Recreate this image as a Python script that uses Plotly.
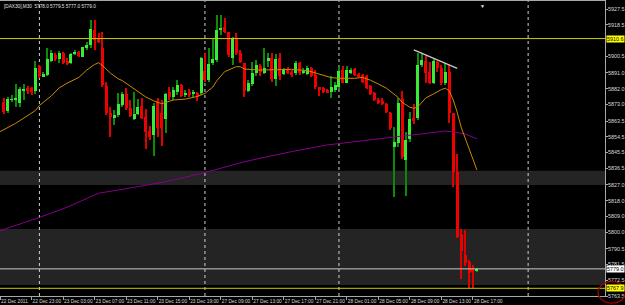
import plotly.graph_objects as go

# ---------------- data (M30 bars, index = bar number) ----------------
bar_idx = list(range(1, 122))
opens = [5874.5, 5869.4, 5875.6, 5875.7, 5874.0, 5881.2, 5882.3, 5882.1, 5880.8, 5894.9,
         5889.2, 5889.8, 5898.0, 5901.2, 5898.7, 5902.5, 5897.8, 5896.4, 5902.2, 5903.1,
         5900.2, 5905.0, 5906.9, 5915.5, 5910.2, 5905.4, 5883.5, 5868.3, 5865.0, 5866.9,
         5872.6, 5878.9, 5870.7, 5864.4, 5867.5, 5872.1, 5866.0, 5858.0, 5855.5, 5874.5,
         5867.9, 5864.4, 5880.2, 5877.0, 5880.2, 5884.1, 5878.3, 5880.2, 5879.0, 5879.7,
         5879.3, 5892.3, 5886.9, 5896.4, 5898.3, 5915.5, 5917.0, 5914.1, 5899.3, 5910.7,
         5902.5, 5896.4, 5880.8, 5884.6, 5891.1, 5894.9, 5891.1, 5898.3, 5899.3, 5887.3,
         5899.3, 5890.3, 5893.0, 5891.7, 5890.7, 5896.8, 5891.1, 5890.3, 5893.6, 5889.8,
         5882.7, 5882.2, 5881.2, 5880.2, 5881.2, 5882.7, 5892.6, 5885.4, 5891.1, 5893.0,
         5890.3, 5889.8, 5889.2, 5883.5, 5879.7, 5875.5, 5875.1, 5873.2, 5867.9, 5848.8,
         5850.7, 5875.9, 5841.2, 5853.0, 5865.0, 5865.0, 5895.5, 5898.0, 5891.7, 5885.4,
         5897.4, 5893.6, 5885.0, 5891.7, 5867.9, 5834.5, 5798.9, 5786.9, 5783.1, 5778.7,
         5778.0]
highs = [5876.4, 5877.0, 5878.3, 5884.6, 5882.7, 5884.6, 5883.5, 5882.7, 5897.8, 5895.5,
         5891.7, 5905.0, 5904.1, 5902.5, 5903.7, 5903.1, 5899.3, 5902.5, 5904.1, 5903.5,
         5906.0, 5908.8, 5921.2, 5921.2, 5913.6, 5914.5, 5886.0, 5871.7, 5869.8, 5879.3,
         5880.2, 5882.2, 5875.5, 5880.2, 5875.9, 5876.4, 5870.2, 5860.6, 5873.6, 5876.4,
         5875.5, 5879.3, 5882.7, 5882.7, 5886.9, 5884.6, 5881.2, 5881.6, 5881.2, 5880.2,
         5900.2, 5902.2, 5905.0, 5910.2, 5924.1, 5924.1, 5922.2, 5914.1, 5911.7, 5914.0,
         5904.1, 5896.4, 5886.9, 5897.4, 5898.3, 5896.1, 5905.0, 5902.2, 5902.2, 5901.8,
         5902.2, 5893.6, 5894.5, 5892.6, 5897.9, 5897.4, 5893.6, 5894.9, 5894.5, 5892.6,
         5882.7, 5882.7, 5881.6, 5889.2, 5886.0, 5894.5, 5894.9, 5894.9, 5893.6, 5893.6,
         5891.1, 5890.3, 5889.8, 5884.1, 5880.2, 5876.4, 5876.4, 5874.0, 5868.8, 5860.3,
         5876.4, 5880.8, 5857.4, 5868.8, 5873.2, 5902.5, 5902.2, 5901.2, 5897.4, 5898.7,
         5898.0, 5895.5, 5896.4, 5895.5, 5868.3, 5844.6, 5801.6, 5801.2, 5784.0, 5781.2,
         5779.5]
lows = [5867.5, 5867.9, 5874.5, 5871.7, 5871.3, 5875.5, 5879.0, 5878.3, 5878.9, 5887.9,
        5888.4, 5889.2, 5897.4, 5898.0, 5896.4, 5896.1, 5895.5, 5896.1, 5901.2, 5899.9,
        5899.9, 5904.1, 5905.0, 5904.1, 5907.9, 5882.7, 5866.9, 5854.2, 5861.2, 5865.9,
        5871.7, 5869.8, 5866.0, 5864.0, 5866.9, 5864.4, 5847.3, 5852.6, 5843.5, 5854.5,
        5849.2, 5856.4, 5875.5, 5875.5, 5878.3, 5877.0, 5877.0, 5877.0, 5877.4, 5875.1,
        5878.3, 5886.0, 5886.0, 5895.5, 5897.4, 5912.6, 5913.6, 5900.2, 5895.5, 5901.2,
        5896.4, 5877.0, 5880.2, 5883.5, 5889.2, 5889.2, 5890.3, 5894.5, 5886.0, 5883.5,
        5886.9, 5889.8, 5890.3, 5888.8, 5889.8, 5889.8, 5890.3, 5889.8, 5888.8, 5881.6,
        5877.8, 5879.7, 5879.3, 5876.4, 5880.2, 5881.6, 5885.0, 5885.0, 5890.3, 5889.2,
        5888.4, 5885.4, 5881.6, 5878.3, 5875.1, 5873.2, 5872.6, 5868.3, 5858.4, 5820.3,
        5848.8, 5841.6, 5820.6, 5851.7, 5861.8, 5864.0, 5894.5, 5885.0, 5884.6, 5884.6,
        5891.7, 5884.1, 5884.1, 5862.2, 5826.0, 5796.4, 5773.0, 5780.6, 5767.9, 5767.9,
        5777.0]
closes = [5868.8, 5875.9, 5876.0, 5876.2, 5881.6, 5882.0, 5880.6, 5880.1, 5893.6, 5889.2,
          5890.3, 5898.7, 5902.2, 5898.7, 5902.5, 5896.8, 5896.1, 5901.8, 5903.0, 5900.6,
          5905.6, 5906.9, 5915.9, 5909.8, 5908.8, 5884.1, 5868.3, 5865.6, 5866.9, 5873.2,
          5878.9, 5870.7, 5866.3, 5867.5, 5871.3, 5865.0, 5857.4, 5854.5, 5872.1, 5859.3,
          5859.3, 5878.9, 5877.0, 5881.2, 5884.1, 5877.8, 5879.7, 5878.3, 5879.7, 5877.0,
          5899.3, 5886.9, 5896.1, 5898.7, 5915.5, 5916.4, 5914.5, 5901.2, 5910.7, 5902.2,
          5897.4, 5880.8, 5885.4, 5891.1, 5895.5, 5891.7, 5893.6, 5899.3, 5887.3, 5898.7,
          5889.2, 5892.6, 5890.7, 5889.8, 5896.8, 5891.1, 5892.3, 5893.6, 5889.2, 5882.7,
          5881.2, 5880.2, 5879.7, 5882.7, 5884.1, 5892.3, 5885.4, 5892.6, 5892.6, 5889.8,
          5889.2, 5886.0, 5882.2, 5878.9, 5875.5, 5873.6, 5873.2, 5868.8, 5859.3, 5851.7,
          5874.0, 5842.7, 5852.6, 5864.4, 5864.0, 5895.5, 5898.3, 5891.1, 5885.4, 5898.0,
          5893.6, 5885.0, 5891.7, 5867.9, 5834.5, 5797.0, 5789.4, 5782.2, 5776.4, 5777.4,
          5779.0]

# moving averages (bar index, value)
ma_fast_idx = [0, 4, 9, 10, 13, 15, 17, 20, 22, 24, 25, 26, 28, 30, 31, 34, 36, 37, 39, 41,
               44, 47, 50, 52, 54, 55, 57, 59, 60, 61, 62, 66, 70, 74, 78, 80, 82, 84, 86, 90,
               92, 94, 96, 98, 101, 102, 104, 105, 106, 107, 108, 110, 112, 113, 114, 115,
               116, 117, 118, 119, 120, 121]
ma_fast_val = [5857.4, 5862.2, 5869.5, 5872.4, 5877.8, 5882.4, 5885.1, 5888.4, 5892.6, 5895.8,
               5896.8, 5895.2, 5890.9, 5887.6, 5886.6, 5881.9, 5879.0, 5877.2, 5875.0, 5873.4,
               5875.5, 5876.0, 5877.5, 5879.3, 5882.9, 5886.5, 5891.7, 5893.8, 5894.6, 5894.5,
               5893.2, 5892.6, 5893.0, 5893.0, 5892.3, 5890.9, 5889.5, 5888.3, 5887.9, 5887.9,
               5888.4, 5886.8, 5884.6, 5882.3, 5877.0, 5874.2, 5871.3, 5870.8, 5871.5, 5874.0,
               5876.6, 5879.0, 5881.5, 5882.2, 5880.6, 5875.5, 5868.5, 5860.0, 5854.0, 5847.9,
               5841.5, 5835.5]
ma_slow_idx = [0, 10, 17, 25, 34, 42, 52, 58, 62, 66, 74, 83, 90, 98, 102, 107, 111, 113,
               115, 118, 121]
ma_slow_val = [5800.8, 5808.4, 5814.2, 5822.2, 5825.6, 5828.8, 5834.0, 5837.8, 5840.2, 5842.2,
               5846.0, 5849.8, 5851.7, 5854.2, 5854.9, 5856.1, 5857.2, 5857.8, 5857.2, 5856.1,
               5853.3]

trend_idx = [105, 116]
trend_val = [5904.1, 5893.6]

day_separators = [10, 52, 86, 134]
zones = [(5826.9, 5835.1), (5769.8, 5801.8)]
yellow_levels = [5910.6, 5767.9]
bid_price = 5779.0

time_tick_idx = [0, 8, 16, 24, 32, 40, 48, 56, 64, 72, 80, 88, 96, 104, 112, 120]
time_tick_text = ["22 Dec 2011", "22 Dec 23:00", "23 Dec 03:00", "23 Dec 07:00",
                  "23 Dec 11:00", "23 Dec 15:00", "23 Dec 19:00", "27 Dec 09:00",
                  "27 Dec 13:00", "27 Dec 17:00", "27 Dec 21:00", "28 Dec 01:00",
                  "28 Dec 05:00", "28 Dec 09:00", "28 Dec 13:00", "28 Dec 17:00"]
price_ticks = [5927.5, 5918.5, 5900.5, 5891.0, 5882.0, 5873.0, 5863.5, 5854.5, 5845.5,
               5836.5, 5827.0, 5818.0, 5809.0, 5800.0, 5790.5, 5781.5, 5772.5, 5763.5]
header = "[DAX30],M30  5778.0 5779.5 5777.0 5779.0"

# ---------------- styling ----------------
FONT = "Liberation Sans Narrow, Liberation Sans, Arial, sans-serif"
BULL_BODY, BEAR_BODY = "#38ec38", "#f20000"
BULL_WICK, BEAR_WICK = "#0c8a0c", "#e00000"
YELLOW = "#cccc00"
GRID = "#a8a8a8"

bull = [c >= o for o, c in zip(opens, closes)]

fig = go.Figure()
fig.add_trace(go.Bar(
    x=bar_idx, y=[h - l for h, l in zip(highs, lows)], base=lows, width=0.26,
    marker=dict(color=[BULL_WICK if b else BEAR_WICK for b in bull], line_width=0),
    hoverinfo="skip", showlegend=False))
fig.add_trace(go.Bar(
    x=bar_idx, y=[max(abs(c - o), 0.35) for o, c in zip(opens, closes)],
    base=[min(o, c) for o, c in zip(opens, closes)], width=0.76,
    marker=dict(color=[BULL_BODY if b else BEAR_BODY for b in bull], line_width=0),
    hoverinfo="skip", showlegend=False))
fig.add_trace(go.Scatter(x=ma_slow_idx, y=ma_slow_val, mode="lines",
                         line=dict(color="#86008a", width=1), showlegend=False))
fig.add_trace(go.Scatter(x=ma_fast_idx, y=ma_fast_val, mode="lines",
                         line=dict(color="#cc8a00", width=1), showlegend=False))
fig.add_trace(go.Scatter(x=trend_idx, y=trend_val, mode="lines",
                         line=dict(color="#c8c8c8", width=1.3), showlegend=False))

shapes = []
for lo, hi in zones:
    shapes.append(dict(type="rect", xref="paper", x0=0, x1=1, yref="y", y0=lo, y1=hi,
                       fillcolor="#242424", line_width=0, layer="below"))
for d in day_separators:
    shapes.append(dict(type="line", xref="x", x0=d, x1=d, yref="paper", y0=0, y1=1,
                       line=dict(color="#d0d0d0", width=1, dash="dot"), layer="below"))
for lv in yellow_levels:
    shapes.append(dict(type="line", xref="paper", x0=0, x1=1, yref="y", y0=lv, y1=lv,
                       line=dict(color=YELLOW, width=1)))
shapes.append(dict(type="line", xref="paper", x0=0, x1=1, yref="y", y0=bid_price, y1=bid_price,
                   line=dict(color="#c8c8c8", width=1)))
# red ellipse around the lower price label
shapes.append(dict(type="circle", xref="paper", x0=0.9884, x1=1.034, yref="paper",
                   y0=-0.024, y1=0.049, line=dict(color="#a00000", width=1.3)))

annotations = [
    dict(text=header, xref="paper", yref="paper", x=0, y=1, xanchor="left", yanchor="top",
         xshift=2, yshift=-1, showarrow=False, font=dict(family=FONT, size=4.7, color="#e0e0e0")),
    dict(text="\u25bc", xref="paper", yref="paper", x=0.797, y=1, xanchor="center",
         yanchor="top", showarrow=False, font=dict(size=5, color="#e8e8e8")),
]
for lv, bg in [(yellow_levels[0], "#ffff00"), (yellow_levels[1], "#ffff00"), (bid_price, "#ffffff")]:
    annotations.append(dict(text=f"{lv:.1f}", xref="paper", x=1, xanchor="left", yref="y", y=lv,
                            yanchor="middle", showarrow=False, bgcolor=bg, borderpad=0,
                            xshift=0.5, font=dict(family=FONT, size=5.4, color="#000000")))

fig.update_layout(
    width=625, height=305, autosize=False,
    margin=dict(l=0, r=20, t=1, b=9, pad=0, autoexpand=False),
    paper_bgcolor="#000000", plot_bgcolor="#000000",
    barmode="overlay", bargap=0, showlegend=False,
    shapes=shapes, annotations=annotations,
    xaxis=dict(range=[0, 153.5], showgrid=False, zeroline=False, showline=True,
               linecolor=GRID, linewidth=1, mirror=True, automargin=False,
               tickmode="array", tickvals=time_tick_idx, ticktext=time_tick_text,
               ticks="outside", ticklen=3, tickcolor=GRID, tickwidth=1, tickangle=0,
               ticklabelposition="outside right", ticklabeloverflow="allow",
               tickfont=dict(family=FONT, size=4.8, color="#d8d8d8")),
    yaxis=dict(range=[5763.5, 5932.07], side="right", showgrid=False, zeroline=False,
               showline=True, linecolor=GRID, linewidth=1, automargin=False,
               tickmode="array", tickvals=price_ticks, ticktext=[f"{v:.1f}" for v in price_ticks],
               ticks="outside", ticklen=2, tickcolor=GRID, ticklabeloverflow="allow",
               ticklabelstandoff=-1,
               tickfont=dict(family=FONT, size=5.4, color="#d8d8d8")),
)

fig.write_html("out.html")
